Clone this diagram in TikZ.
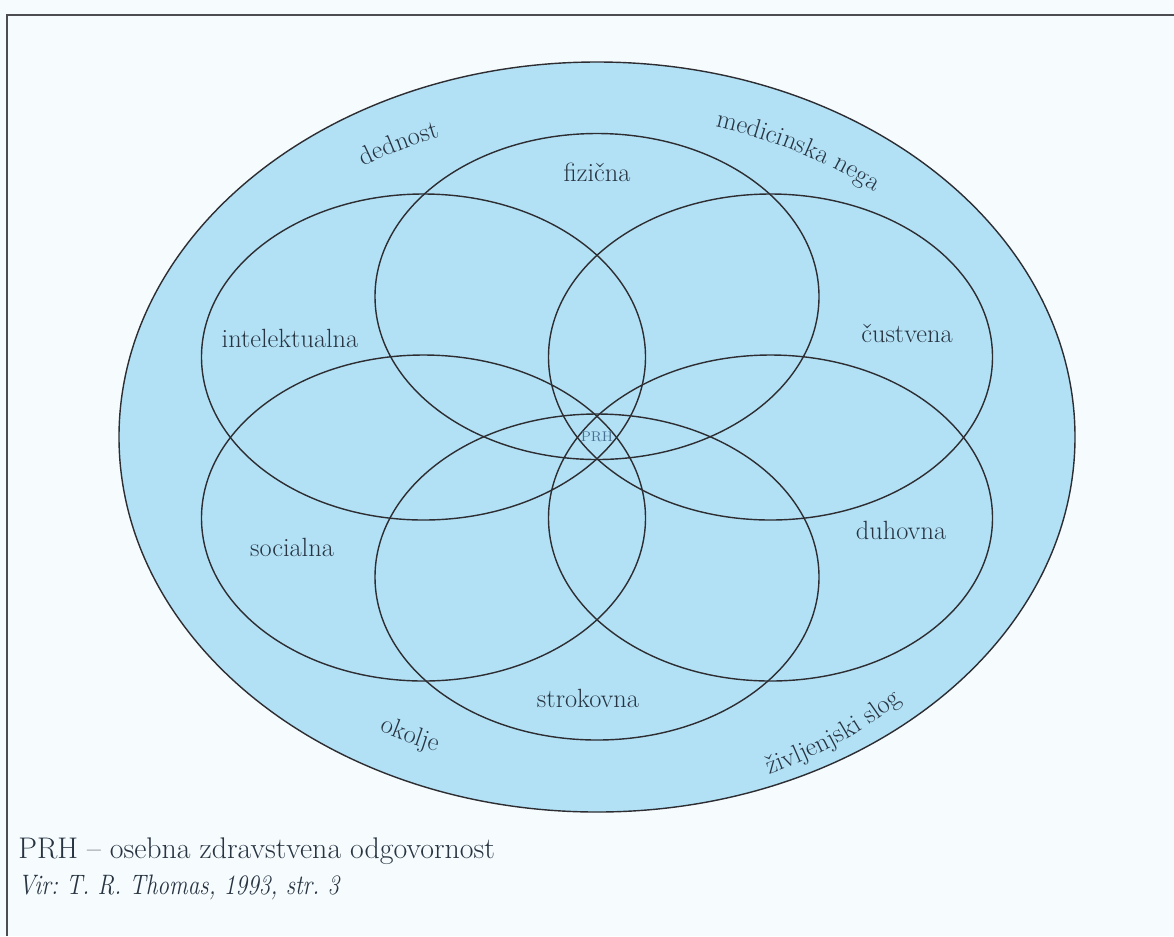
\documentclass[tikz,border=0pt]{standalone}
\usepackage{fontspec}
\usetikzlibrary{decorations.text}

\definecolor{paper}{RGB}{246,252,254}
\definecolor{sky}{RGB}{178,225,245}
\definecolor{edge}{RGB}{45,45,50}
\definecolor{ink}{RGB}{40,52,66}
\definecolor{prhblue}{RGB}{70,110,145}

\newcommand\labelfont{\fontsize{15}{18}\selectfont}
\newcommand\notefont{\fontsize{17}{20}\selectfont}

\tikzset{
  petal/.style={draw=edge, line width=0.8pt},
  ringtext/.style={decorate, decoration={text along path, text align=center,
    text color=ink, text={|\labelfont|#1}}}
}

\frenchspacing
\begin{document}
\begin{tikzpicture}

\def \rx {4.44}
\def \ry {3.26}

\useasboundingbox[fill=paper] (-11.94,-9.98) rectangle (11.54,8.74);
\draw[edge!85, line width=0.9pt] (-11.8,-9.98) -- (-11.8,8.44) -- (11.54,8.44);

% outer ring
\filldraw[fill=sky, petal] (0,0) ellipse [x radius=9.56, y radius=7.5];

% six petals around the centre
\foreach \px/\py in {0/2.81, -3.47/1.6, 3.47/1.6, -3.47/-1.62, 3.47/-1.62, 0/-2.8}
  \draw[petal] (\px,\py) ellipse [x radius=\rx, y radius=\ry];

\begin{scope}[every node/.style={font=\labelfont, text=ink, inner sep=0}]
\node (fiz) at (0,5.3) {fizična};
\node (int) at (-6.14,1.98) {intelektualna};
\node (cus) at (6.2,2.08) {čustvena};
\node (soc) at (-6.1,-2.2) {socialna};
\node (duh) at (6.08,-1.86) {duhovna};
\node (str) at (-0.18,-5.22) {strokovna};
\end{scope}
\node[font=\fontsize{8}{9}\selectfont, text=prhblue, inner sep=0] (prh) at (0,0) {PRH};

% words along the ring
\path[ringtext=dednost] (138:8.52 and 6.46) arc[start angle=138, end angle=98, x radius=8.52, y radius=6.46];
\path[ringtext=medicinska nega] (84:8.52 and 6.46) arc[start angle=84, end angle=38, x radius=8.52, y radius=6.46];
\path[ringtext=okolje] (224:8.82 and 6.76) arc[start angle=224, end angle=264, x radius=8.82, y radius=6.76];
\path[ringtext=življenjski slog] (281:8.8 and 7.33) arc[start angle=281, end angle=327, x radius=8.8, y radius=7.33];

\node[anchor=base west, font=\notefont, text=ink, inner sep=0] (note) at (-11.58,-8.42) {PRH – osebna zdravstvena odgovornost};
% source line, a bit narrower
\begin{scope}[shift={(-11.58,-9.14)}, xscale=0.83]
\node[anchor=base west, transform shape, font=\fontsize{16}{19}\selectfont\itshape, text=ink, inner sep=0] (src) at (0,0) {Vir: T. R. Thomas, 1993, str. 3};
\end{scope}

\end{tikzpicture}
\end{document}
